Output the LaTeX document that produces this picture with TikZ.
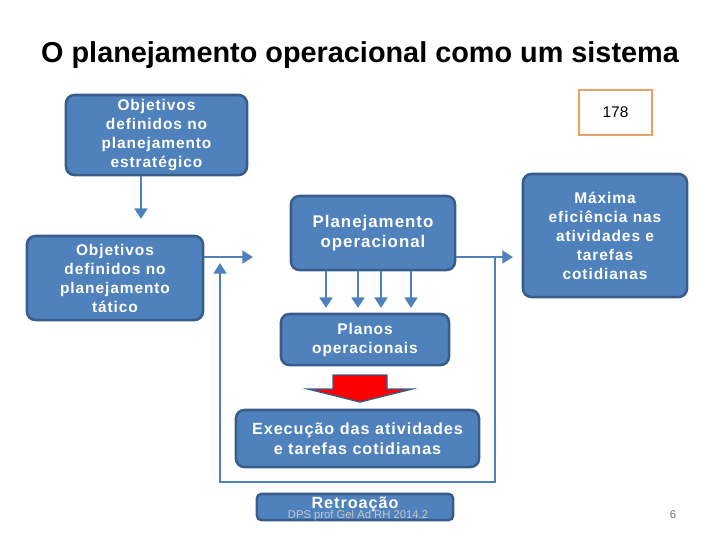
\documentclass[tikz,border=0pt]{standalone}
\usepackage{fontspec}
\setmainfont{Liberation Sans}
\newfontfamily\boxfont[LetterSpace=6]{Liberation Sans}
\usetikzlibrary{arrows.meta,positioning}
\definecolor{boxblue}{HTML}{4F81BD}
\definecolor{boxedge}{HTML}{385D8A}
\definecolor{noteorange}{HTML}{EBA165}
\begin{document}
\begin{tikzpicture}[x=0.025cm, y=-0.025cm,
  goal/.style={rectangle, draw=boxedge, line width=1.8pt, fill=boxblue, rounded corners=6pt,
               align=center, text=white, inner sep=1pt,
               font=\boxfont\fontsize{11}{13.5}\selectfont\bfseries},
  note/.style={rectangle, draw=noteorange, line width=1.8pt, fill=white,
               minimum width=1.825cm, minimum height=1.125cm, font=\fontsize{11}{13}\selectfont},
  line/.style={boxblue, line width=2pt},
  flow/.style={line, -{Triangle[width=9pt,length=7.5pt]}}
]
  \useasboundingbox (0,0) rectangle (720,540);

  % -- Title ---------------------------------------------------------------
  \node[font=\fontsize{20.5}{23}\selectfont\bfseries] (title) at (360,55)
       {O planejamento operacional como um sistema};

  % -- Boxes ---------------------------------------------------------------
  \node[goal, minimum width=4.525cm, minimum height=2.0cm]  (estrat) at (156.5,135)
       {Objetivos\\definidos no\\planejamento\\estratégico};
  \node[goal, minimum width=4.4cm, minimum height=2.1cm]    (tatico) at (115,278)
       {Objetivos\\definidos no\\planejamento\\tático};
  \node[goal, minimum width=4.1cm, minimum height=1.85cm,
        font=\boxfont\fontsize{12}{14.5}\selectfont\bfseries] (operac) at (373,233)
       {Planejamento\\operacional};
  \node[goal, minimum width=4.1cm, minimum height=3.075cm]  (maxima) at (605,235.5)
       {Máxima\\eficiência nas\\atividades e\\tarefas\\cotidianas};
  \node[note] (pagina) at (615.5,112.5) {178};
  \node[goal, minimum width=4.2cm, minimum height=1.275cm]  (planos) at (365,339.5)
       {Planos\\operacionais};
  \node[goal, minimum width=6.075cm, minimum height=1.425cm,
        font=\boxfont\fontsize{11.5}{14}\selectfont\bfseries] (execucao) at (357.5,438.5)
       {Execução das atividades\\e tarefas cotidianas};
  \node[goal, minimum width=4.9cm, minimum height=0.65cm, inner sep=0pt, rounded corners=3pt,
        font=\boxfont\fontsize{11.5}{13}\selectfont\bfseries] (retro) at (355,507)
       {\smash{\raisebox{-1pt}{Retroação}}};

  % -- Footer --------------------------------------------------------------
  \node[font=\fontsize{8}{9}\selectfont, text=black!22] (rodape) at (358,516)
       {DPS prof Gel Ad RH 2014.2};
  \node[font=\fontsize{8}{9}\selectfont, text=black!55] (numero) at (673,515) {6};

  % -- Connectors ----------------------------------------------------------
  \coordinate (inTat)  at (141,219);
  \coordinate (inOp)   at (253,257);
  \coordinate (inMax)  at (513,257);
  \coordinate (fbTop)  at (495,257);
  \coordinate (fbLow)  at (495,482);
  \coordinate (fbLeft) at (220,482);
  \coordinate (fbEnd)  at (220,263);

  \draw[flow] (estrat.south -| inTat) -- (inTat);
  \draw[flow] (tatico.east |- inOp) -- (inOp);
  \draw[flow] (operac.east |- inMax) -- (inMax);
  % feedback loop
  \draw[flow] (fbTop) -- (fbLow) -- (fbLeft) -- (fbEnd);
  % plans
  \foreach \xx in {326,358,381,411}
    \draw[flow] (operac.south -| \xx,0) -- (\xx,308);

  % -- Red block arrow -----------------------------------------------------
  \draw[boxedge, line width=1pt, fill=red]
    (333,375) -- (387,375) -- (387,389) -- (412,389) -- (360,402)
    -- (308,389) -- (333,389) -- cycle;
\end{tikzpicture}
\end{document}
